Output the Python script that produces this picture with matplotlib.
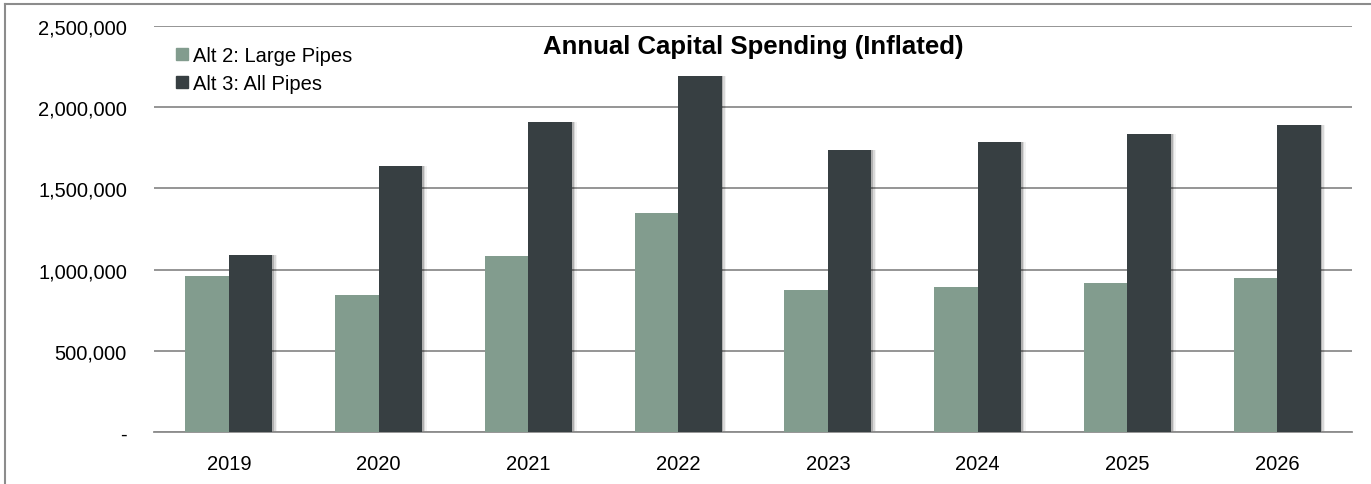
import matplotlib.pyplot as plt
import numpy as np
from matplotlib import font_manager
from matplotlib.lines import Line2D

years = ["2019", "2020", "2021", "2022", "2023", "2024", "2025", "2026"]
alt2_large = [960000, 845000, 1085000, 1350000, 874000, 893000, 918000, 948000]
alt3_all = [1090000, 1640000, 1910000, 2192000, 1738000, 1788000, 1838000, 1893000]

GREEN = "#829C8E"
DARK = "#373F42"
GRID = "#8C8C8C"

# pick a narrow font if one is there
names = {f.name for f in font_manager.fontManager.ttflist}
fam = "Liberation Sans Narrow" if "Liberation Sans Narrow" in names else "Liberation Sans"
plt.rcParams["font.family"] = [fam, "DejaVu Sans"]

fig = plt.figure(figsize=(13.71, 4.85), dpi=100)
ax = fig.add_axes([154 / 1371, 1 - 433 / 485, 1198 / 1371, 406 / 485])

x = np.arange(len(years))
w = 0.29
# soft shadow behind bars
for dx, a in [(0.012, 0.18), (0.022, 0.10), (0.032, 0.05)]:
    ax.bar(x - w / 2 + dx, alt2_large, w, color="black", alpha=a, zorder=2, linewidth=0)
    ax.bar(x + w / 2 + dx, alt3_all, w, color="black", alpha=a, zorder=2, linewidth=0)
ax.bar(x - w / 2, alt2_large, w, color=GREEN, zorder=3, linewidth=0)
ax.bar(x + w / 2, alt3_all, w, color=DARK, zorder=3, linewidth=0)

ax.set_xlim(-0.5, len(years) - 0.5)
ax.set_ylim(0, 2500000)
ax.set_yticks(np.arange(0, 2500001, 500000))
ax.set_yticklabels(["-"] + ["{:,}".format(v) for v in range(500000, 2500001, 500000)])
ax.set_xticks(x)
ax.set_xticklabels(years)
ax.tick_params(axis="y", length=0, labelsize=14.5, pad=19.5)
ax.tick_params(axis="x", length=0, labelsize=14.5, pad=16)
for lbl in ax.get_yticklabels():
    lbl.set_horizontalalignment("right")
ax.grid(axis="y", color=GRID, linewidth=1.3, zorder=1)
for s in ["left", "right", "top"]:
    ax.spines[s].set_visible(False)
ax.spines["bottom"].set_color(GRID)
ax.spines["bottom"].set_linewidth(1.3)

ax.text(0.5, 0.95, "Annual Capital Spending (Inflated)", transform=ax.transAxes,
        ha="center", va="center", fontsize=18.5, fontweight="bold", color="black")

handles = [
    Line2D([], [], marker="s", linestyle="none", markersize=9, color=GREEN),
    Line2D([], [], marker="s", linestyle="none", markersize=9, color=DARK),
]
ax.legend(handles, ["Alt 2: Large Pipes", "Alt 3: All Pipes"], loc="upper left",
          bbox_to_anchor=(0.0, 0.995), frameon=False, fontsize=14.5,
          handletextpad=0.05, labelspacing=0.45, handlelength=1.0)

# outer frame lines (top and left)
fig.add_artist(Line2D([5 / 1371, 1], [1 - 5 / 485, 1 - 5 / 485], color="#8C8C8C", linewidth=1.5))
fig.add_artist(Line2D([5 / 1371, 5 / 1371], [0, 1 - 5 / 485], color="#8C8C8C", linewidth=1.5))

fig.savefig("out.png", dpi=100)
